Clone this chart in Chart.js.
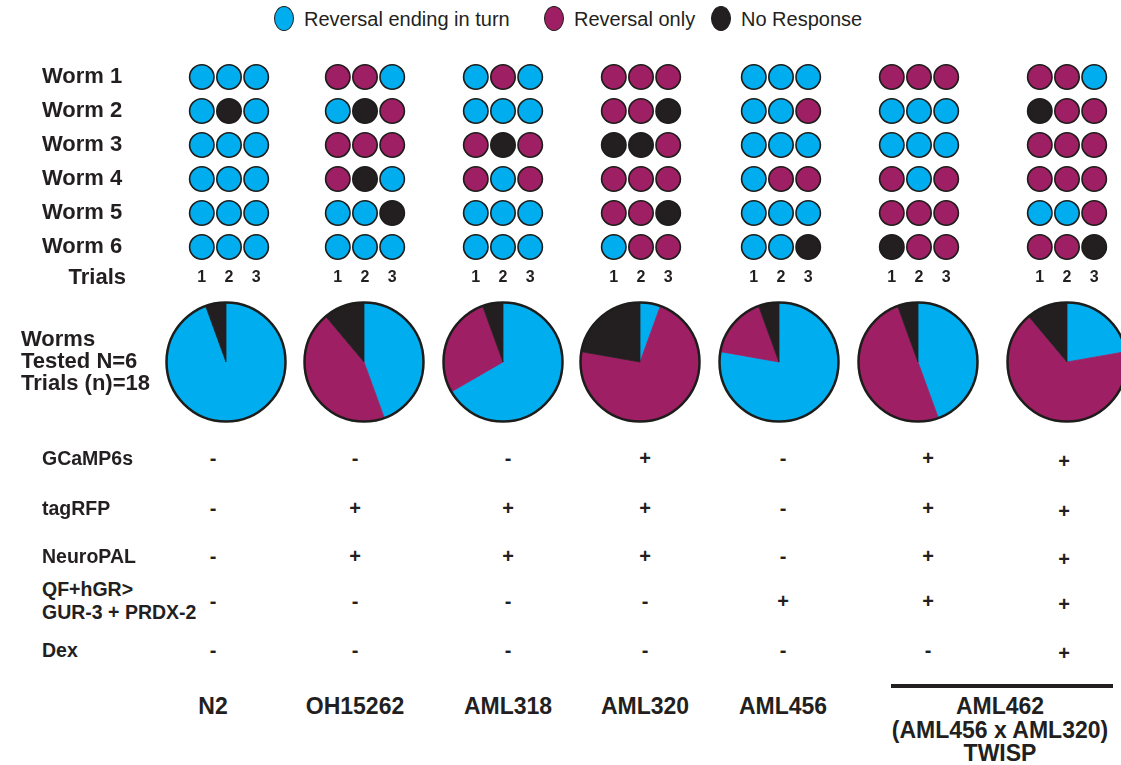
<!DOCTYPE html>
<html lang="en">
<head>
<meta charset="utf-8">
<title>Reversal outcomes by strain</title>
<script src="https://cdn.jsdelivr.net/npm/chart.js@4.4.1/dist/chart.umd.min.js"></script>
<style>
  html, body { margin: 0; padding: 0; background: #fff; overflow: hidden; }
  #figure { position: relative; width: 1121px; height: 765px; overflow: hidden;
            font-family: "Liberation Sans", Arial, Helvetica, sans-serif; color: #231f20; }
  #figure canvas { position: absolute; }
  .txt { position: absolute; white-space: pre; line-height: 1; }
  .key { position: absolute; display: flex; align-items: center; font-size: 20px; line-height: 1; white-space: pre; }
  .key i { display: inline-block; width: 20px; height: 25px; border-radius: 50%;
           border: 1.5px solid #1d1d1b; box-sizing: border-box; margin-right: 10px; }
  .bar { position: absolute; background: #231f20; }
</style>
</head>
<body>
<div id="figure"></div>
<script>
// ---------- data ----------
const outcomeNames  = ['Reversal ending in turn', 'Reversal only', 'No Response'];
const outcomeCodes  = ['T', 'R', 'N'];
const outcomeColors = ['#00aeef', '#9e1f63', '#231f20'];

const wormLabels  = ['Worm 1', 'Worm 2', 'Worm 3', 'Worm 4', 'Worm 5', 'Worm 6'];
const trialLabels = [1, 2, 3];

// one string per worm, one letter per trial (T = turn, R = reversal only, N = no response)
const trialsN2        = ['TTT', 'TNT', 'TTT', 'TTT', 'TTT', 'TTT'];
const trialsOH15262   = ['RRT', 'TNR', 'RRR', 'RNT', 'TTN', 'TTT'];
const trialsAML318    = ['TRT', 'TTT', 'RNR', 'RTR', 'TTT', 'TTT'];
const trialsAML320    = ['RRR', 'RRN', 'NNR', 'RRR', 'RRN', 'TRR'];
const trialsAML456    = ['TTT', 'TTR', 'TTT', 'TRR', 'TTT', 'TTN'];
const trialsAML462    = ['RRR', 'TTT', 'TTT', 'RTR', 'RRR', 'NRR'];
const trialsAML462Dex = ['RRT', 'NRR', 'RRR', 'RRR', 'TTR', 'RRN'];
const strainTrials = [trialsN2, trialsOH15262, trialsAML318, trialsAML320,
                      trialsAML456, trialsAML462, trialsAML462Dex];

// pie summaries, trials out of 18
const turnPie       = [17, 8, 12, 1, 14, 8, 4];
const reversalPie   = [0, 8, 5, 13, 3, 9, 12];
const noResponsePie = [1, 2, 1, 4, 1, 1, 2];

// genotype / treatment table
const featureLabels = ['GCaMP6s', 'tagRFP', 'NeuroPAL', 'QF+hGR>\nGUR-3 + PRDX-2', 'Dex'];
const gcamp6s     = ['-', '-', '-', '+', '-', '+', '+'];
const tagRFP      = ['-', '+', '+', '+', '-', '+', '+'];
const neuroPAL    = ['-', '+', '+', '+', '-', '+', '+'];
const qfGur3Prdx2 = ['-', '-', '-', '-', '+', '+', '+'];
const dex         = ['-', '-', '-', '-', '-', '-', '+'];
const featureMarks = [gcamp6s, tagRFP, neuroPAL, qfGur3Prdx2, dex];

const strainLabels = ['N2', 'OH15262', 'AML318', 'AML320', 'AML456', 'AML462\n(AML456 x AML320)\nTWISP'];

// ---------- layout ----------
const FONT = '"Liberation Sans", Arial, Helvetica, sans-serif';
const INK = '#231f20';
const OUTLINE = '#1d1d1b';
const gridX    = [229, 365, 503, 641, 781, 919, 1067];
const pieX     = [225.5, 364, 502.5, 640, 779, 918, 1067];
const markX    = [213, 355, 508, 645, 783, 928, 1064];
const markDy   = [0, 0, 0, 0, 0, 0, 3];
const featureY = [458, 508, 556, 601, 650];
const strainX  = [213, 355, 508, 645, 783, 1000];
const legendX  = [274, 544, 711];

Chart.defaults.font.family = FONT;
Chart.defaults.color = INK;

const fig = document.getElementById('figure');

function makeCanvas(left, top, w, h) {
  const c = document.createElement('canvas');
  c.width = w; c.height = h;
  c.style.left = left + 'px'; c.style.top = top + 'px';
  c.style.width = w + 'px'; c.style.height = h + 'px';
  fig.appendChild(c);
  return c;
}

function addText(str, x, y, opts = {}) {
  const { size = 22, bold = true, align = 'left', lh = null } = opts;
  const d = document.createElement('div');
  d.className = 'txt';
  d.textContent = str;
  d.style.fontSize = size + 'px';
  d.style.fontWeight = bold ? 'bold' : 'normal';
  if (lh) d.style.lineHeight = lh + 'px';
  d.style.textAlign = align;
  d.style.left = x + 'px';
  d.style.top = y + 'px';
  const tx = align === 'center' ? '-50%' : align === 'right' ? '-100%' : '0';
  d.style.transform = `translate(${tx}, -50%)`;
  fig.appendChild(d);
  return d;
}

// ---------- legend ----------
outcomeNames.forEach((name, k) => {
  const item = document.createElement('div');
  item.className = 'key';
  item.style.left = legendX[k] + 'px';
  item.style.top = '6px';
  const dot = document.createElement('i');
  dot.style.background = outcomeColors[k];
  item.appendChild(dot);
  item.appendChild(document.createTextNode(name));
  fig.appendChild(item);
});

// ---------- per-worm trial grids ----------
function buildGrid(i) {
  const isFirst = i === 0;
  const halfArea = 40.8;     // half of the three trial slots
  const labelLeft = 42;
  const left = isFirst ? 0 : gridX[i] - 55;
  const width = isFirst ? gridX[i] + 55 : 110;
  const cv = makeCanvas(left, 44, width, 250);

  const datasets = outcomeCodes.map((code, k) => ({
    label: outcomeNames[k],
    data: [],
    backgroundColor: outcomeColors[k],
    borderColor: OUTLINE,
    borderWidth: 1.6,
    pointRadius: 12.2,
    pointHoverRadius: 12.2,
    clip: false
  }));
  strainTrials[i].forEach((row, w) => {
    row.split('').forEach((code, t) => {
      datasets[outcomeCodes.indexOf(code)].data.push({ x: trialLabels[t], y: w + 1 });
    });
  });

  const yScale = {
    type: 'linear', min: 0.5, max: 6.5, reverse: true, display: isFirst,
    grid: { display: false, drawTicks: false }, border: { display: false },
    afterBuildTicks: s => { s.ticks = wormLabels.map((_, k) => ({ value: k + 1 })); },
    ticks: { crossAlign: 'far', padding: 0, color: INK,
             font: { family: FONT, size: 22, weight: 'bold' },
             callback: v => wormLabels[v - 1] }
  };
  if (isFirst) yScale.afterFit = s => { s.width = gridX[0] - halfArea - labelLeft; };

  new Chart(cv, {
    type: 'scatter',
    data: { datasets },
    options: {
      responsive: false, animation: false, events: [],
      layout: { padding: { left: isFirst ? labelLeft : 14.2, right: 14.2, top: 16, bottom: 0 } },
      plugins: { legend: { display: false }, tooltip: { enabled: false } },
      scales: {
        x: {
          type: 'linear', min: 0.5, max: 3.5,
          grid: { display: false, drawTicks: false }, border: { display: false },
          afterBuildTicks: s => { s.ticks = trialLabels.map(v => ({ value: v })); },
          afterFit: s => { s.height = 30; },
          ticks: { padding: 4, color: INK, maxRotation: 0, autoSkip: false,
                   font: { family: FONT, size: 16, weight: 'bold' } }
        },
        y: yScale
      }
    }
  });
}

// ---------- summary pies ----------
const pieOutline = {
  id: 'pieOutline',
  afterDatasetsDraw(chart) {
    const arc = chart.getDatasetMeta(0).data[0];
    if (!arc) return;
    const { x, y, outerRadius } = arc.getProps(['x', 'y', 'outerRadius'], true);
    const ctx = chart.ctx;
    ctx.save();
    ctx.beginPath();
    ctx.arc(x, y, outerRadius, 0, Math.PI * 2);
    ctx.lineWidth = 2.5;
    ctx.strokeStyle = OUTLINE;
    ctx.stroke();
    ctx.restore();
  }
};

function buildPie(i) {
  const cv = makeCanvas(pieX[i] - 65, 297, 130, 130);
  const values = [turnPie[i], reversalPie[i], noResponsePie[i]];
  new Chart(cv, {
    type: 'pie',
    data: {
      labels: outcomeNames,
      datasets: [{
        data: values,
        backgroundColor: outcomeColors,
        borderColor: outcomeColors,
        borderWidth: values.map(v => (v ? 0.8 : 0))
      }]
    },
    options: {
      responsive: false, animation: false, events: [],
      radius: 59.5,
      plugins: { legend: { display: false }, tooltip: { enabled: false } }
    },
    plugins: [pieOutline]
  });
}

strainTrials.forEach((_, i) => { buildGrid(i); buildPie(i); });

// ---------- row captions ----------
addText('Trials', 126, 277, { align: 'right' });
addText('Worms', 21, 339);
addText('Tested N=6', 21, 361);
addText('Trials (n)=18', 21, 383);

// ---------- genotype table ----------
featureLabels.forEach((label, r) => {
  addText(label, 42, featureY[r], { size: 19.5, lh: 23 });
  featureMarks[r].forEach((m, c) =>
    addText(m, markX[c], featureY[r] + markDy[c], { size: 20, align: 'center' }));
});

// ---------- strain names ----------
const strainLineY = 706.5;
const strainLH = 23.5;
strainLabels.forEach((label, c) => {
  const lines = label.split('\n').length;
  addText(label, strainX[c], strainLineY + (lines - 1) * strainLH / 2,
          { size: 23, align: 'center', lh: strainLH });
});

const bar = document.createElement('div');
bar.className = 'bar';
Object.assign(bar.style, { left: '891px', top: '684px', width: '222px', height: '4px' });
fig.appendChild(bar);
</script>
</body>
</html>
